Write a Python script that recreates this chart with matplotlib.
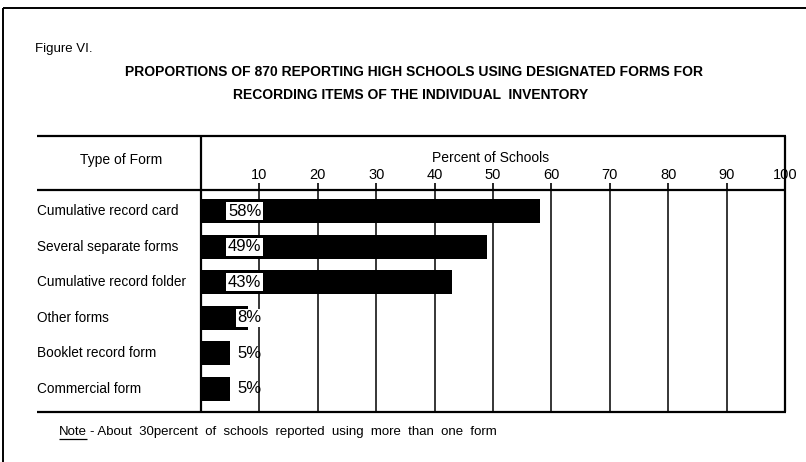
import matplotlib

matplotlib.use("Agg")
import matplotlib.pyplot as plt
from matplotlib.lines import Line2D

plt.rcParams["font.family"] = ["Liberation Sans", "DejaVu Sans"]

# data
forms = [
    "Cumulative record card",
    "Several separate forms",
    "Cumulative record folder",
    "Other forms",
    "Booklet record form",
    "Commercial form",
]
percent = [58, 49, 43, 8, 5, 5]
tick_values = [10, 20, 30, 40, 50, 60, 70, 80, 90, 100]

W, H = 806, 462


def fx(px):
    return px / W


def fy(py):
    return 1 - py / H


def hline(fig, x0, x1, y, lw=1.6):
    fig.add_artist(Line2D([fx(x0), fx(x1)], [fy(y), fy(y)], color="black", lw=lw,
                          transform=fig.transFigure, solid_capstyle="butt"))


def vline(fig, x, y0, y1, lw=1.6):
    fig.add_artist(Line2D([fx(x), fx(x)], [fy(y0), fy(y1)], color="black", lw=lw,
                          transform=fig.transFigure, solid_capstyle="butt"))


fig = plt.figure(figsize=(W / 100, H / 100), dpi=100)

# plotting area: x 201..785 px, y 190..411 px
ax = fig.add_axes([fx(201), fy(411), fx(785) - fx(201), fy(190) - fy(411)])
rows = list(range(len(forms)))
ax.barh(rows, percent, height=0.68, color="black", zorder=3)
ax.set_xlim(0, 100)
ax.set_ylim(5.625, -0.6)
ax.set_yticks([])
ax.set_xticks(tick_values)
ax.xaxis.tick_top()
ax.tick_params(axis="x", direction="out", length=5, width=1.2, pad=0.5, labelsize=10.5)
ax.grid(axis="x", color="black", lw=1.1, zorder=1)
for s in ax.spines.values():
    s.set_visible(False)

# percentage labels; the ones sitting on a bar get a white patch
for r, p in zip(rows, percent):
    box = dict(boxstyle="square,pad=0.1", fc="white", ec="none") if p > 6 else None
    ax.text(10.35, r, f"{p}%", ha="right", va="center", fontsize=12, color="black", zorder=5,
            bbox=box)

# row labels in the left column
for r, name in zip(rows, forms):
    fig.text(fx(37), fy(211.3 + 35.5 * r), name, ha="left", va="center", fontsize=9.8)

# frame and table rules
hline(fig, 3, W, 8, lw=1.4)
vline(fig, 3, 8, H, lw=1.4)
hline(fig, 37, 786, 135.5)
hline(fig, 37, 786, 190)
hline(fig, 37, 786, 411.5)
vline(fig, 201, 135.5, 411.5)
vline(fig, 785, 135.5, 411.5)

fig.text(fx(35), fy(49), "Figure VI.", ha="left", va="center", fontsize=9.5)
fig.text(fx(414), fy(72), "PROPORTIONS OF 870 REPORTING HIGH SCHOOLS USING DESIGNATED FORMS FOR",
         ha="center", va="center", fontsize=10, fontweight="bold")
fig.text(fx(411), fy(95), "RECORDING ITEMS OF THE INDIVIDUAL  INVENTORY",
         ha="center", va="center", fontsize=10, fontweight="bold")
fig.text(fx(121), fy(160), "Type of Form", ha="center", va="center", fontsize=10)
fig.text(fx(491), fy(158), "Percent of Schools", ha="center", va="center", fontsize=10)

# note line: underlined "Note", rest placed after it
note = fig.text(fx(59), fy(432), "Note", ha="left", va="center", fontsize=9.5)
fig.canvas.draw()
bb = note.get_window_extent()
fig.text(fx(bb.x1 + 3), fy(432), "- About  30percent  of  schools  reported  using  more  than  one  form",
         ha="left", va="center", fontsize=9.5)
hline(fig, bb.x0, bb.x1, H - bb.y0 + 1, lw=0.9)

fig.savefig("out.png", dpi=100)
